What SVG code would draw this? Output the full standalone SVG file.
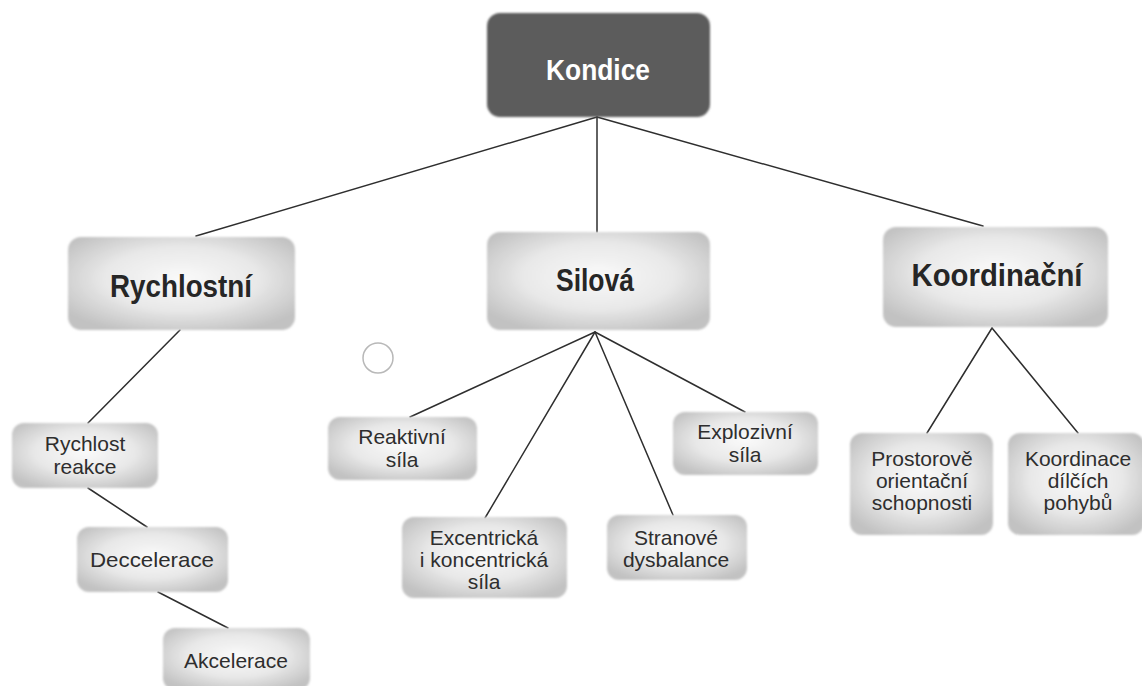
<svg xmlns="http://www.w3.org/2000/svg" width="1142" height="686" viewBox="0 0 1142 686">
  <defs>
    <radialGradient id="boxFill" cx="50%" cy="45%" r="62%">
      <stop offset="0%" stop-color="#fafafa"/>
      <stop offset="55%" stop-color="#e8e8e8"/>
      <stop offset="100%" stop-color="#c2c2c2"/>
    </radialGradient>
    <filter id="soft" x="-5%" y="-5%" width="110%" height="110%">
      <feGaussianBlur stdDeviation="1.2"/>
    </filter>
    <style>
      .box { fill: url(#boxFill); filter: url(#soft); }
      .root { fill: #5b5b5b; filter: url(#soft); }
      .edge { stroke: #2e2e2e; stroke-width: 1.5; fill: none; stroke-linecap: round; }
      .head { font-family: "Liberation Sans", Arial, sans-serif; font-weight: bold; font-size: 31px; fill: #262626; text-anchor: middle; }
      .rootText { font-family: "Liberation Sans", Arial, sans-serif; font-weight: bold; font-size: 29px; fill: #ffffff; text-anchor: middle; }
      .leaf { font-family: "Liberation Sans", Arial, sans-serif; font-size: 21px; fill: #2e2e2e; text-anchor: middle; }
    </style>
  </defs>

  <rect width="1142" height="686" fill="#ffffff"/>

  <!-- connectors -->
  <g id="connectors">
    <line class="edge" x1="597" y1="117" x2="196" y2="236"/>
    <line class="edge" x1="597" y1="117" x2="597" y2="232"/>
    <line class="edge" x1="597" y1="117" x2="983" y2="226"/>
    <line class="edge" x1="180" y1="330" x2="88" y2="423"/>
    <line class="edge" x1="88" y1="488" x2="147" y2="527"/>
    <line class="edge" x1="158" y1="592" x2="228" y2="628"/>
    <line class="edge" x1="595" y1="332" x2="410" y2="417"/>
    <line class="edge" x1="595" y1="332" x2="485" y2="518"/>
    <line class="edge" x1="595" y1="332" x2="673" y2="515"/>
    <line class="edge" x1="595" y1="332" x2="745" y2="412"/>
    <line class="edge" x1="992" y1="328" x2="927" y2="433"/>
    <line class="edge" x1="992" y1="328" x2="1078" y2="433"/>
  </g>

  <!-- stray pencil circle -->
  <circle cx="378" cy="358" r="15" fill="none" stroke="#b8b8b8" stroke-width="1.5"/>

  <g id="kondice">
    <rect class="root" x="487" y="13" width="223" height="104" rx="13"/>
    <text class="rootText" x="598" y="80" textLength="104" lengthAdjust="spacingAndGlyphs">Kondice</text>
  </g>

  <g id="rychlostni">
    <rect class="box" x="68" y="237" width="227" height="93" rx="13"/>
    <text class="head" x="181" y="297" textLength="142" lengthAdjust="spacingAndGlyphs">Rychlostní</text>
  </g>

  <g id="silova">
    <rect class="box" x="487" y="232" width="223" height="98" rx="13"/>
    <text class="head" x="595" y="291" textLength="78" lengthAdjust="spacingAndGlyphs">Silová</text>
  </g>

  <g id="koordinacni">
    <rect class="box" x="883" y="227" width="225" height="100" rx="13"/>
    <text class="head" x="997" y="286" textLength="171" lengthAdjust="spacingAndGlyphs">Koordinační</text>
  </g>

  <g id="rychlost-reakce">
    <rect class="box" x="12" y="423" width="146" height="65" rx="12"/>
    <text class="leaf" x="85" y="451">Rychlost</text>
    <text class="leaf" x="85" y="474">reakce</text>
  </g>

  <g id="deccelerace">
    <rect class="box" x="77" y="527" width="151" height="65" rx="12"/>
    <text class="leaf" x="152" y="567" textLength="124" lengthAdjust="spacingAndGlyphs">Deccelerace</text>
  </g>

  <g id="akcelerace">
    <rect class="box" x="163" y="628" width="147" height="62" rx="12"/>
    <text class="leaf" x="236" y="668">Akcelerace</text>
  </g>

  <g id="reaktivni-sila">
    <rect class="box" x="328" y="417" width="149" height="63" rx="12"/>
    <text class="leaf" x="402" y="444">Reaktivní</text>
    <text class="leaf" x="402" y="467">síla</text>
  </g>

  <g id="excentricka-sila">
    <rect class="box" x="402" y="517" width="165" height="81" rx="12"/>
    <text class="leaf" x="484" y="545">Excentrická</text>
    <text class="leaf" x="484" y="567">i koncentrická</text>
    <text class="leaf" x="484" y="589">síla</text>
  </g>

  <g id="stranove-dysbalance">
    <rect class="box" x="607" y="515" width="140" height="65" rx="12"/>
    <text class="leaf" x="676" y="545">Stranové</text>
    <text class="leaf" x="676" y="567">dysbalance</text>
  </g>

  <g id="explozivni-sila">
    <rect class="box" x="673" y="412" width="145" height="63" rx="12"/>
    <text class="leaf" x="745" y="439">Explozivní</text>
    <text class="leaf" x="745" y="462">síla</text>
  </g>

  <g id="prostorove-orientacni">
    <rect class="box" x="850" y="433" width="143" height="102" rx="12"/>
    <text class="leaf" x="922" y="466">Prostorově</text>
    <text class="leaf" x="922" y="488">orientační</text>
    <text class="leaf" x="922" y="510">schopnosti</text>
  </g>

  <g id="koordinace-dilcich">
    <rect class="box" x="1008" y="433" width="136" height="102" rx="12"/>
    <text class="leaf" x="1078" y="466">Koordinace</text>
    <text class="leaf" x="1078" y="488">dílčích</text>
    <text class="leaf" x="1078" y="510">pohybů</text>
  </g>
</svg>
